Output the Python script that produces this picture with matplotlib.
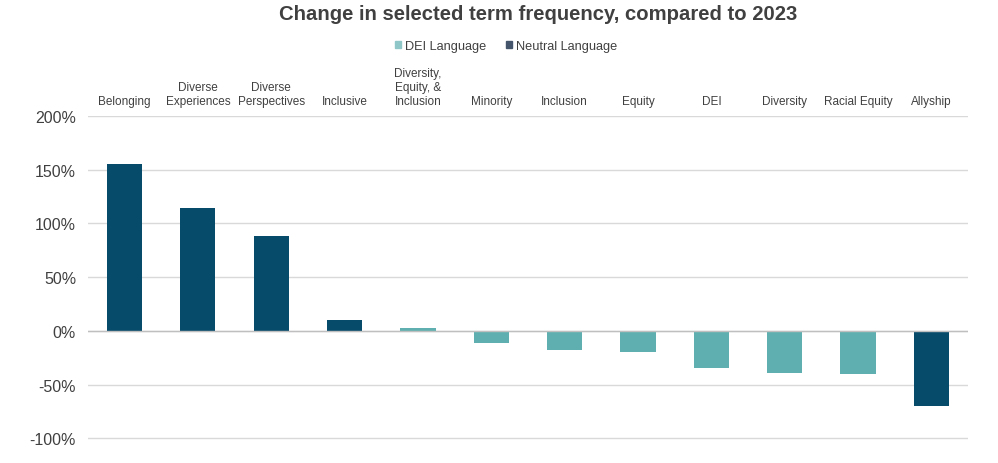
import matplotlib.pyplot as plt
from matplotlib.patches import Patch
from matplotlib.ticker import FuncFormatter

plt.rcParams['font.family'] = ['Liberation Sans', 'DejaVu Sans']

# Data
terms = ["Belonging", "Diverse\nExperiences", "Diverse\nPerspectives", "Inclusive",
         "Diversity,\nEquity, &\nInclusion", "Minority", "Inclusion", "Equity",
         "DEI", "Diversity", "Racial Equity", "Allyship"]
change = [155, 114, 88, 10, 3, -11, -18, -20, -34, -39, -40, -70]
group = ["Neutral", "Neutral", "Neutral", "Neutral", "DEI", "DEI", "DEI", "DEI",
         "DEI", "DEI", "DEI", "Neutral"]

dei_color = "#5FAFB0"
neutral_color = "#074B6A"
colors = [dei_color if g == "DEI" else neutral_color for g in group]

fig = plt.figure(figsize=(9.98, 4.64), dpi=100)
ax = fig.add_axes([0.088, 0.0065, 0.882, 0.7415])

x = range(len(terms))
ax.bar(x, change, width=0.48, color=colors, zorder=3)

ax.set_xlim(-0.5, len(terms) - 0.5)
ax.set_ylim(-120, 200)
ax.set_yticks([-100, -50, 0, 50, 100, 150, 200])
ax.yaxis.set_major_formatter(FuncFormatter(lambda v, p: f"{v:.0f}%"))
ax.tick_params(axis="y", length=0, labelsize=11.5, colors="#404040", pad=8.5)
ax.set_xticks([])
ax.grid(axis="y", color="#D9D9D9", linewidth=1, zorder=0)
ax.axhline(0, color="#BFBFBF", linewidth=1, zorder=4)
for s in ax.spines.values():
    s.set_visible(False)

# category labels sit above the plot area
for i, t in enumerate(terms):
    ax.text(i, 1.025, t, transform=ax.get_xaxis_transform(), ha="center",
            va="bottom", fontsize=8.5, color="#404040", linespacing=1.25)

fig.text(0.539, 0.99, "Change in selected term frequency, compared to 2023",
         ha="center", va="top", fontsize=14.6, fontweight="bold", color="#404040")

# legend swatches in the reference look lighter / greyer than the bars
handles = [Patch(color="#8FC7C8", label="DEI Language"),
           Patch(color="#44546A", label="Neutral Language")]
fig.legend(handles=handles, loc="center", bbox_to_anchor=(0.507, 0.898), ncol=2,
           frameon=False, fontsize=9.2, handlelength=0.45, handleheight=0.45,
           handletextpad=0.3, columnspacing=1.6, labelcolor="#404040")

fig.savefig("out.png", dpi=100)
